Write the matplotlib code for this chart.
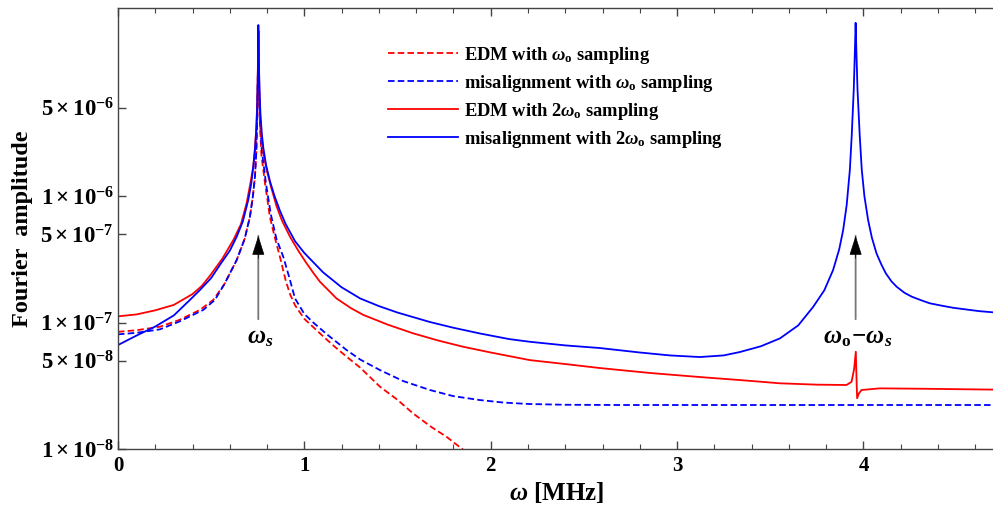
import matplotlib
matplotlib.use("Agg")
import matplotlib.pyplot as plt
from matplotlib import rcParams
from matplotlib.ticker import FixedLocator, FixedFormatter, MultipleLocator

# fonts: bold serif everywhere, maths in the same family
rcParams['font.family'] = 'serif'
rcParams['font.serif'] = ['Liberation Serif', 'DejaVu Serif']
rcParams['font.weight'] = 'bold'
rcParams['mathtext.fontset'] = 'custom'
rcParams['mathtext.rm'] = 'Liberation Serif:bold'
rcParams['mathtext.bf'] = 'Liberation Serif:bold'
rcParams['mathtext.it'] = 'Liberation Serif:bold:italic'

# ---- data (omega in MHz, amplitude) ----
# EDM, omega_o sampling (red dashed)
edm1_w = [0.0, 0.1, 0.225, 0.33, 0.44, 0.511, 0.57, 0.637, 0.68, 0.708, 0.724, 0.735,
          0.742, 0.747, 0.75, 0.752, 0.753, 0.7545, 0.757, 0.762, 0.77, 0.789, 0.815,
          0.84, 0.869, 0.9, 0.923, 0.95, 1.0, 1.048, 1.1, 1.16, 1.227, 1.3, 1.406, 1.5,
          1.584, 1.68, 1.763, 1.844, 1.9]
edm1_a = [8.45e-8, 8.7e-8, 9.27e-8, 1.05e-7, 1.26e-7, 1.51e-7, 2.0e-7, 3.12e-7, 4.6e-7,
          6.86e-7, 1.0e-6, 1.42e-6, 2.2e-6, 4e-6, 7.5e-6, 1.3e-5, 1.98e-5, 1.3e-5,
          6.5e-6, 3.5e-6, 2.1e-6, 1.26e-6, 6.86e-7, 4.8e-7, 3.31e-7, 2.15e-7, 1.68e-7,
          1.37e-7, 1.07e-7, 9.2e-8, 7.8e-8, 6.5e-8, 5.37e-8, 4.4e-8, 3.11e-8, 2.45e-8,
          1.91e-8, 1.5e-8, 1.25e-8, 1.01e-8, 8.8e-9]

# misalignment, omega_o sampling (blue dashed)
mis1_w = [0.0, 0.1, 0.225, 0.33, 0.458, 0.52, 0.57, 0.637, 0.68, 0.708, 0.724, 0.735,
          0.742, 0.747, 0.75, 0.752, 0.7535, 0.755, 0.7575, 0.763, 0.772, 0.794, 0.82,
          0.85, 0.887, 0.92, 0.95, 1.0, 1.048, 1.12, 1.227, 1.3, 1.406, 1.53, 1.674,
          1.8, 1.942, 2.07, 2.21, 2.4, 2.7, 3.2, 3.7, 4.2, 4.71]
mis1_a = [8.07e-8, 8.3e-8, 8.84e-8, 1.02e-7, 1.26e-7, 1.51e-7, 2.0e-7, 3.12e-7, 4.6e-7,
          6.86e-7, 1.0e-6, 1.42e-6, 2.2e-6, 4e-6, 7.5e-6, 1.3e-5, 2.0e-5, 1.35e-5, 7e-6,
          3.8e-6, 2.3e-6, 1.26e-6, 7.2e-7, 4.6e-7, 3.31e-7, 2.25e-7, 1.55e-7, 1.17e-7,
          1.0e-7, 8.1e-8, 6.06e-8, 5.1e-8, 4.21e-8, 3.45e-8, 2.93e-8, 2.62e-8, 2.44e-8,
          2.33e-8, 2.27e-8, 2.24e-8, 2.23e-8, 2.23e-8, 2.23e-8, 2.23e-8, 2.23e-8]

# EDM, 2 omega_o sampling (red solid)
edm2_w = [0.0, 0.1, 0.2, 0.3, 0.4, 0.45, 0.494, 0.56, 0.619, 0.66, 0.69, 0.71, 0.726,
          0.736, 0.743, 0.748, 0.751, 0.753, 0.755, 0.758, 0.762, 0.768, 0.78, 0.798,
          0.82, 0.851, 0.88, 0.923, 0.97, 1.012, 1.05, 1.084, 1.173, 1.25, 1.316, 1.45,
          1.584, 1.72, 1.852, 2.0, 2.21, 2.4, 2.586, 2.85, 3.122, 3.35, 3.552, 3.75,
          3.909, 3.936, 3.95, 3.959, 3.963, 3.966, 3.975, 3.99, 4.088, 4.3, 4.71]
edm2_a = [1.12e-7, 1.16e-7, 1.25e-7, 1.38e-7, 1.68e-7, 1.95e-7, 2.35e-7, 3.2e-7, 4.49e-7,
          6.0e-7, 8.75e-7, 1.25e-6, 1.71e-6, 2.5e-6, 3.6e-6, 6e-6, 1.1e-5, 2.05e-5,
          1.3e-5, 7.5e-6, 4.6e-6, 3.2e-6, 2.2e-6, 1.61e-6, 1.2e-6, 8.3e-7, 6.4e-7,
          4.77e-7, 3.65e-7, 2.94e-7, 2.45e-7, 2.1e-7, 1.55e-7, 1.3e-7, 1.15e-7, 9.6e-8,
          8.22e-8, 7.2e-8, 6.44e-8, 5.8e-8, 5.05e-8, 4.7e-8, 4.37e-8, 4.0e-8, 3.71e-8,
          3.5e-8, 3.31e-8, 3.23e-8, 3.21e-8, 3.4e-8, 4.3e-8, 5.88e-8, 3.5e-8, 2.52e-8,
          2.75e-8, 2.93e-8, 3.02e-8, 3.0e-8, 2.95e-8]

# misalignment, 2 omega_o sampling (blue solid)
mis2_w = [0.0, 0.1, 0.2, 0.3, 0.386, 0.44, 0.5, 0.55, 0.6, 0.637, 0.67, 0.699, 0.715,
          0.726, 0.735, 0.742, 0.747, 0.75, 0.752, 0.7532, 0.755, 0.757, 0.76, 0.765,
          0.772, 0.78, 0.795, 0.8155, 0.84, 0.87, 0.9, 0.95, 1.0, 1.1, 1.2, 1.3, 1.4,
          1.5, 1.674, 1.8, 1.942, 2.1, 2.21, 2.4, 2.586, 2.8, 2.961, 3.122, 3.25, 3.337,
          3.45, 3.552, 3.65, 3.73, 3.79, 3.837, 3.87, 3.891, 3.91, 3.927, 3.937, 3.948,
          3.954, 3.958, 3.962, 3.968, 3.98, 3.991, 4.005, 4.025, 4.045, 4.07, 4.095,
          4.12, 4.15, 4.178, 4.22, 4.26, 4.31, 4.356, 4.42, 4.48, 4.55, 4.624, 4.71]
mis2_a = [6.64e-8, 7.9e-8, 9.3e-8, 1.14e-7, 1.51e-7, 1.81e-7, 2.25e-7, 2.9e-7, 3.7e-7,
          4.77e-7, 6.3e-7, 9.3e-7, 1.25e-6, 1.71e-6, 2.3e-6, 3.3e-6, 5.0e-6, 8e-6,
          1.4e-5, 2.25e-5, 1.5e-5, 1e-5, 6.5e-6, 4.3e-6, 3.1e-6, 2.4e-6, 1.75e-6,
          1.31e-6, 1.0e-6, 7.6e-7, 6.0e-7, 4.4e-7, 3.55e-7, 2.5e-7, 1.9e-7, 1.55e-7,
          1.35e-7, 1.2e-7, 1.01e-7, 9.1e-8, 8.2e-8, 7.4e-8, 7.05e-8, 6.6e-8, 6.29e-8,
          5.8e-8, 5.5e-8, 5.34e-8, 5.5e-8, 5.85e-8, 6.5e-8, 7.5e-8, 9.5e-8, 1.33e-7,
          1.8e-7, 2.6e-7, 3.8e-7, 5.38e-7, 8.5e-7, 1.61e-6, 3e-6, 7e-6, 1.4e-5, 2.34e-5,
          1.4e-5, 7e-6, 3e-6, 1.61e-6, 1.0e-6, 6.46e-7, 4.7e-7, 3.52e-7, 2.9e-7,
          2.45e-7, 2.12e-7, 1.92e-7, 1.72e-7, 1.6e-7, 1.5e-7, 1.42e-7, 1.36e-7, 1.31e-7,
          1.27e-7, 1.23e-7, 1.2e-7]

legend_labels = [r'EDM with $\omega_\mathrm{o}$ sampling',
                 r'misalignment with $\omega_\mathrm{o}$ sampling',
                 r'EDM with $2\omega_\mathrm{o}$ sampling',
                 r'misalignment with $2\omega_\mathrm{o}$ sampling']

ytick_vals = [1e-8, 5e-8, 1e-7, 5e-7, 1e-6, 5e-6]
ytick_text = [r'$1\times10^{-8}$', r'$5\times10^{-8}$', r'$1\times10^{-7}$',
              r'$5\times10^{-7}$', r'$1\times10^{-6}$', r'$5\times10^{-6}$']

# arrows: (x position, tail amplitude, tip amplitude, label)
arrow_x = [0.753, 3.958]
arrow_tail = [1.01e-7, 1.01e-7]
arrow_tip = [5.1e-7, 5.1e-7]
arrow_text = [r'$\omega_s$', r'$\omega_\mathrm{o}\!-\!\omega_s$']
label_amp = 7.6e-8

fig = plt.figure(figsize=(9.93, 5.08), dpi=100, facecolor='white')
# the frame runs out past the right edge of the picture (cropped original)
ax = fig.add_axes([0.1188, 0.116, 0.884, 0.868])

dash = (0, (3.6, 1.8))
ax.plot(edm1_w, edm1_a, color='red', ls=dash, lw=1.3, label=legend_labels[0])
ax.plot(mis1_w, mis1_a, color='blue', ls=dash, lw=1.3, label=legend_labels[1])
ax.plot(edm2_w, edm2_a, color='red', lw=1.3, label=legend_labels[2])
ax.plot(mis2_w, mis2_a, color='blue', lw=1.3, label=legend_labels[3])

ax.set_yscale('log')
ax.set_xlim(0, 4.71)
ax.set_ylim(1e-8, 3.06e-5)

ax.yaxis.set_major_locator(FixedLocator(ytick_vals))
ax.yaxis.set_major_formatter(FixedFormatter(ytick_text))
ax.yaxis.set_minor_locator(FixedLocator([]))
ax.xaxis.set_major_locator(MultipleLocator(1))
ax.xaxis.set_minor_locator(MultipleLocator(0.2))

for s in ax.spines.values():
    s.set_color('#444444')
    s.set_linewidth(1.0)
ax.tick_params(axis='both', which='both', direction='in', top=True, right=False,
               color='#444444')
ax.tick_params(which='major', length=6, width=1.0)
ax.tick_params(which='minor', length=3.5, width=0.8)
ax.tick_params(axis='x', pad=5, labelsize=15)
ax.tick_params(axis='y', pad=3, labelsize=16.5)

ax.set_xlabel(r'$\omega$ [MHz]', fontsize=18, fontweight='bold', labelpad=3)
ax.set_ylabel('Fourier  amplitude', fontsize=17.5, fontweight='bold', labelpad=5)

for xa, tail, tip, txt in zip(arrow_x, arrow_tail, arrow_tip, arrow_text):
    ax.annotate('', xy=(xa, tip), xytext=(xa, tail),
                arrowprops=dict(arrowstyle='-', color='#777777', lw=1.3))
    ax.annotate('', xy=(xa, tip), xytext=(xa, tip * 0.6),
                arrowprops=dict(arrowstyle='-|>,head_length=1.25,head_width=0.4',
                                color='black', lw=0.5))
    ax.text(xa + 0.01, label_amp, txt, ha='center', va='center', fontsize=18)

leg = ax.legend(loc='upper left', bbox_to_anchor=(0.289, 0.955), frameon=False,
                fontsize=13.3, handlelength=3.8, handletextpad=0.3, labelspacing=0.38)
for t in leg.get_texts():
    t.set_fontweight('bold')

fig.savefig('out.png', dpi=100, facecolor='white')
